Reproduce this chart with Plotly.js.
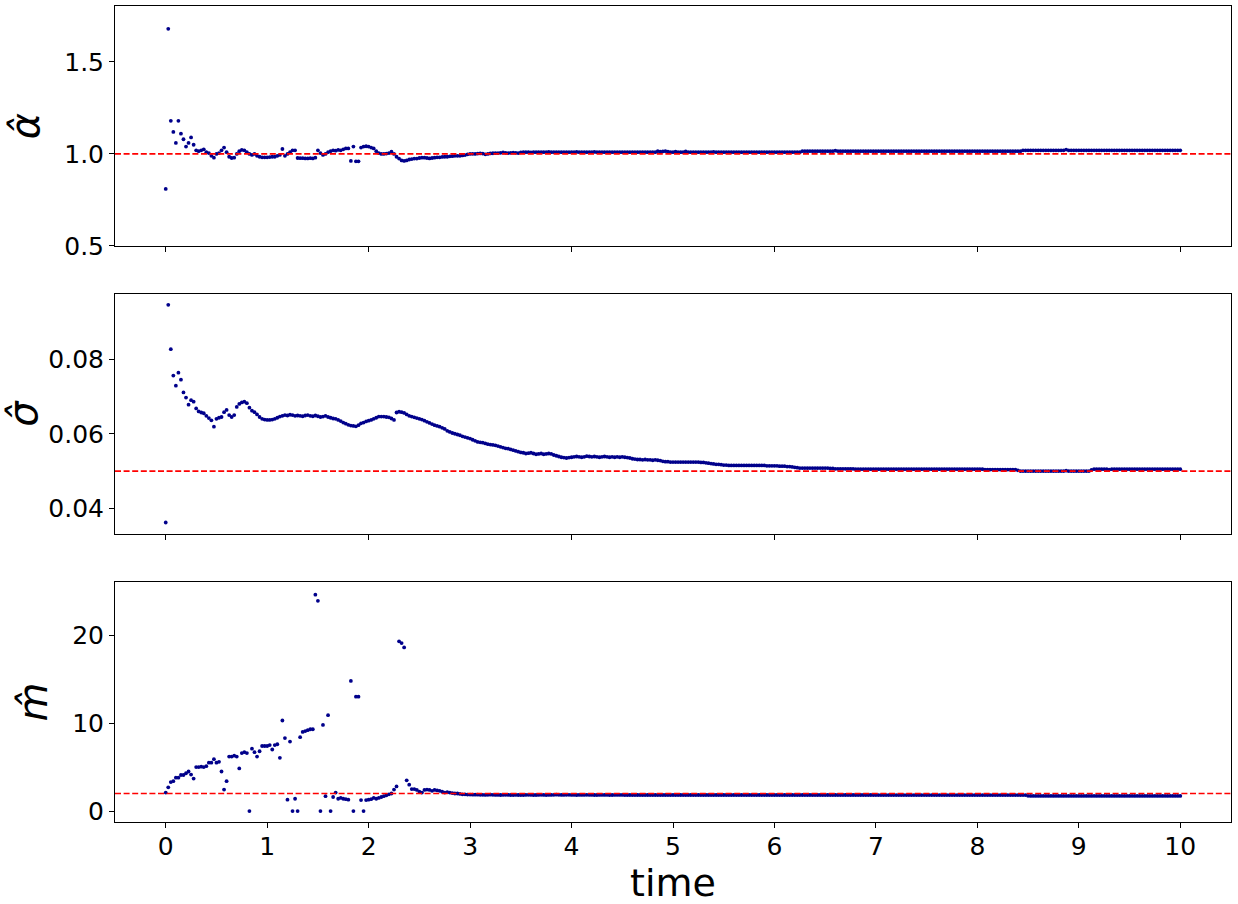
<!DOCTYPE html>
<html>
<head>
<meta charset="utf-8">
<script src="https://cdn.plot.ly/plotly-3.0.1.min.js"></script>
<style>html,body{margin:0;padding:0;background:#fff;}#chart{width:1238px;height:904px;}</style>
</head>
<body>
<div id="chart"></div>
<script>
// sampling step of the estimates (time units)
const sampleStep = 0.025;

// alpha-hat estimates, one row per time unit (40 samples each) + final sample at t=10
const alphaHat = [
0.81,1.68,1.18,1.12,1.06,1.18,1.11,1.08,1.04,1.06,1.09,1.05,1.02,1.015,1.02,1.025,1.01,1.005,0.99,0.98,1.0,1.005,1.02,1.035,1.01,0.985,0.978,0.98,1.0,1.015,1.022,1.02,1.01,1.0,0.995,1.0,0.99,0.985,0.982,0.982,
0.982,0.983,0.985,0.985,0.99,0.995,1.027,0.99,1.0,1.01,1.02,1.02,0.978,0.977,0.977,0.976,0.976,0.977,0.976,0.98,1.02,1.005,0.995,1.0,1.01,1.015,1.02,1.018,1.022,1.02,1.025,1.03,1.03,0.962,1.04,0.96,0.96,1.035,1.04,1.042,
1.04,1.035,1.03,1.015,1.005,1.0,1.0,1.002,1.005,1.012,1.0,0.985,0.975,0.965,0.962,0.965,0.97,0.972,0.975,0.975,0.978,0.98,0.98,0.978,0.976,0.978,0.98,0.982,0.982,0.984,0.985,0.985,0.987,0.988,0.99,0.99,0.99,0.992,0.994,0.998,
1.0,1.001,1.0,1.002,1.003,1.002,0.998,1.0,1.003,1.004,1.005,1.005,1.006,1.008,1.006,1.005,1.006,1.007,1.006,1.005,1.009,1.01,1.01,1.01,1.009,1.01,1.01,1.01,1.01,1.01,1.01,1.011,1.01,1.01,1.01,1.01,1.01,1.01,1.01,1.01,
1.01,1.01,1.011,1.01,1.01,1.01,1.01,1.01,1.01,1.011,1.01,1.01,1.01,1.01,1.01,1.01,1.01,1.01,1.01,1.01,1.01,1.01,1.01,1.01,1.01,1.01,1.01,1.01,1.01,1.01,1.01,1.01,1.01,1.01,1.015,1.013,1.014,1.015,1.013,1.01,
1.01,1.012,1.01,1.01,1.01,1.014,1.01,1.01,1.01,1.01,1.01,1.01,1.01,1.01,1.01,1.01,1.011,1.01,1.01,1.01,1.01,1.01,1.01,1.01,1.01,1.01,1.01,1.01,1.01,1.01,1.01,1.01,1.01,1.01,1.01,1.01,1.01,1.01,1.01,1.01,
1.01,1.01,1.01,1.01,1.01,1.01,1.01,1.01,1.01,1.01,1.01,1.015,1.015,1.015,1.015,1.015,1.015,1.015,1.015,1.015,1.015,1.015,1.015,1.015,1.018,1.015,1.015,1.015,1.015,1.015,1.015,1.015,1.015,1.015,1.015,1.015,1.015,1.015,1.015,1.015,
1.015,1.015,1.015,1.015,1.015,1.015,1.015,1.015,1.015,1.015,1.015,1.015,1.015,1.015,1.015,1.015,1.015,1.015,1.015,1.015,1.015,1.015,1.015,1.015,1.015,1.015,1.015,1.015,1.015,1.015,1.015,1.015,1.015,1.015,1.015,1.015,1.015,1.015,1.015,1.015,
1.015,1.015,1.015,1.015,1.015,1.015,1.015,1.015,1.015,1.015,1.015,1.015,1.015,1.015,1.015,1.015,1.015,1.015,1.02,1.02,1.02,1.02,1.02,1.02,1.02,1.02,1.02,1.02,1.02,1.02,1.02,1.02,1.02,1.02,1.02,1.024,1.02,1.02,1.02,1.02,
1.02,1.02,1.02,1.02,1.02,1.02,1.02,1.02,1.02,1.02,1.02,1.02,1.02,1.02,1.02,1.02,1.02,1.02,1.02,1.02,1.02,1.02,1.02,1.02,1.02,1.02,1.02,1.02,1.02,1.02,1.02,1.02,1.02,1.02,1.02,1.02,1.02,1.02,1.02,1.02,
1.02
];

// sigma-hat estimates
const sigmaHat = [
0.0362,0.0946,0.0827,0.0756,0.0729,0.0764,0.0745,0.0711,0.0697,0.0678,0.069,0.0686,0.0668,0.066,0.0657,0.0655,0.0648,0.0642,0.0636,0.0619,0.064,0.0643,0.0645,0.0658,0.0664,0.065,0.0645,0.065,0.0672,0.068,0.0684,0.0686,0.0682,0.067,0.0662,0.0658,0.0652,0.0645,0.064,0.0638,
0.0637,0.0637,0.0638,0.064,0.0643,0.0646,0.0648,0.065,0.0649,0.0651,0.065,0.0648,0.0649,0.0648,0.0647,0.0649,0.065,0.0648,0.0647,0.0649,0.0647,0.0645,0.0646,0.0648,0.0645,0.0643,0.0641,0.064,0.0637,0.0634,0.063,0.0627,0.0624,0.0622,0.0621,0.062,0.0623,0.0628,0.063,0.0633,
0.0635,0.0637,0.064,0.0643,0.0646,0.0646,0.0646,0.0645,0.0644,0.0641,0.0637,0.0657,0.0659,0.0658,0.0656,0.0652,0.0648,0.0646,0.0644,0.0642,0.064,0.0638,0.0635,0.0632,0.0629,0.0626,0.0623,0.0621,0.0619,0.0616,0.0613,0.0608,0.0605,0.0602,0.06,0.0598,0.0596,0.0593,0.0591,0.0589,
0.0587,0.0584,0.0581,0.0578,0.0577,0.0576,0.0574,0.0572,0.0571,0.057,0.0569,0.0567,0.0565,0.0563,0.0561,0.056,0.0558,0.0556,0.0554,0.0552,0.055,0.0549,0.0547,0.0548,0.0549,0.0547,0.0545,0.0546,0.0547,0.0545,0.0546,0.0547,0.0546,0.0543,0.0541,0.0539,0.0537,0.0536,0.0535,0.0536,
0.0537,0.0538,0.0539,0.0538,0.0537,0.0538,0.054,0.0539,0.0538,0.0539,0.0538,0.0537,0.0538,0.0539,0.0538,0.0537,0.0538,0.0537,0.0538,0.0537,0.0538,0.0537,0.0536,0.0535,0.0533,0.0532,0.0531,0.0531,0.053,0.0531,0.053,0.053,0.0529,0.053,0.0529,0.0528,0.0526,0.0525,0.0525,0.0524,
0.0524,0.0524,0.0524,0.0524,0.0524,0.0524,0.0524,0.0524,0.0524,0.0524,0.0524,0.0523,0.0523,0.0522,0.0521,0.052,0.0519,0.0518,0.0518,0.0517,0.0516,0.0516,0.0515,0.0515,0.0515,0.0515,0.0515,0.0515,0.0515,0.0515,0.0515,0.0515,0.0515,0.0515,0.0515,0.0515,0.0515,0.0514,0.0514,0.0514,
0.0514,0.0514,0.0513,0.0513,0.0513,0.0512,0.0512,0.0511,0.051,0.0509,0.0508,0.0508,0.0508,0.0508,0.0508,0.0508,0.0508,0.0508,0.0508,0.0508,0.0508,0.0508,0.0507,0.0507,0.0506,0.0506,0.0506,0.0506,0.0506,0.0506,0.0506,0.0506,0.0505,0.0505,0.0505,0.0505,0.0505,0.0505,0.0505,0.0505,
0.0505,0.0505,0.0505,0.0505,0.0505,0.0505,0.0505,0.0505,0.0505,0.0505,0.0505,0.0505,0.0505,0.0505,0.0505,0.0505,0.0505,0.0505,0.0505,0.0505,0.0505,0.0505,0.0505,0.0505,0.0505,0.0505,0.0505,0.0505,0.0505,0.0505,0.0505,0.0505,0.0505,0.0505,0.0505,0.0505,0.0505,0.0505,0.0505,0.0505,
0.0505,0.0505,0.0505,0.0504,0.0504,0.0504,0.0504,0.0504,0.0504,0.0504,0.0504,0.0504,0.0504,0.0504,0.0504,0.0504,0.0502,0.05,0.05,0.05,0.05,0.05,0.05,0.05,0.05,0.05,0.05,0.05,0.05,0.05,0.05,0.05,0.05,0.05,0.05,0.0501,0.05,0.05,0.05,0.05,
0.05,0.05,0.05,0.05,0.05,0.0503,0.0505,0.0505,0.0505,0.0505,0.0505,0.0505,0.0504,0.0505,0.0505,0.0505,0.0505,0.0505,0.0505,0.0505,0.0505,0.0505,0.0505,0.0505,0.0505,0.0505,0.0505,0.0505,0.0505,0.0505,0.0505,0.0505,0.0505,0.0505,0.0505,0.0505,0.0505,0.0505,0.0505,0.0505,
0.0505
];

// m-hat estimates
const mHat = [
2.1,2.7,3.3,3.4,3.8,3.8,4.1,4.1,4.3,4.5,4.15,3.7,5.0,5.0,5.05,5.0,5.1,5.5,5.5,5.9,5.5,5.6,4.5,2.45,3.4,6.2,6.2,6.3,6.2,4.85,6.6,6.7,6.6,0,7.1,6.7,6.2,6.8,7.4,7.4,
7.4,7.5,7.0,7.5,7.6,6.05,10.3,8.3,1.3,7.9,0,1.4,0,8.4,9.0,9.1,9.2,9.3,9.3,24.6,23.9,0,9.8,1.7,10.9,0,1.6,2.1,1.4,1.5,1.4,1.35,1.3,14.8,0,13.0,13.0,1.25,0,1.25,
1.3,1.35,1.5,1.4,1.5,1.6,1.7,1.8,1.9,2.0,2.45,2.8,19.3,19.1,18.6,3.5,3.0,2.5,2.5,2.4,2.2,2.1,2.4,2.45,2.4,2.3,2.4,2.35,2.3,2.2,2.1,2.15,2.1,2.05,2.0,2.0,1.95,1.9,1.9,1.88,
1.88,1.87,1.86,1.86,1.85,1.85,1.84,1.85,1.86,1.85,1.84,1.84,1.83,1.84,1.85,1.84,1.83,1.83,1.84,1.83,1.82,1.83,1.84,1.85,1.84,1.83,1.83,1.84,1.85,1.84,1.83,1.84,1.84,1.85,1.86,1.85,1.84,1.84,1.85,1.85,
1.84,1.84,1.83,1.84,1.84,1.84,1.85,1.84,1.84,1.83,1.83,1.84,1.84,1.84,1.84,1.83,1.83,1.84,1.84,1.84,1.84,1.83,1.83,1.83,1.83,1.83,1.83,1.83,1.83,1.83,1.83,1.83,1.83,1.83,1.83,1.83,1.83,1.83,1.83,1.83,
1.83,1.83,1.83,1.83,1.83,1.83,1.83,1.83,1.83,1.83,1.83,1.83,1.83,1.83,1.83,1.83,1.83,1.83,1.83,1.83,1.83,1.83,1.83,1.83,1.83,1.83,1.83,1.83,1.83,1.83,1.83,1.83,1.83,1.83,1.83,1.83,1.83,1.83,1.83,1.83,
1.83,1.83,1.83,1.83,1.83,1.83,1.83,1.83,1.83,1.83,1.83,1.83,1.83,1.83,1.83,1.83,1.83,1.83,1.83,1.83,1.83,1.83,1.83,1.83,1.83,1.83,1.83,1.83,1.83,1.83,1.83,1.83,1.83,1.83,1.83,1.83,1.83,1.83,1.83,1.83,
1.82,1.82,1.82,1.82,1.82,1.82,1.82,1.82,1.82,1.82,1.82,1.82,1.82,1.82,1.82,1.82,1.82,1.82,1.82,1.82,1.82,1.82,1.82,1.82,1.82,1.82,1.82,1.82,1.82,1.82,1.82,1.82,1.82,1.82,1.82,1.82,1.82,1.82,1.82,1.82,
1.82,1.82,1.82,1.82,1.82,1.82,1.82,1.82,1.82,1.82,1.82,1.82,1.82,1.82,1.82,1.82,1.82,1.82,1.82,1.82,1.73,1.72,1.72,1.72,1.72,1.72,1.72,1.72,1.72,1.72,1.72,1.72,1.72,1.72,1.72,1.72,1.72,1.72,1.72,1.72,
1.72,1.72,1.72,1.72,1.72,1.72,1.72,1.72,1.72,1.72,1.72,1.72,1.72,1.72,1.72,1.72,1.72,1.72,1.72,1.72,1.72,1.72,1.72,1.72,1.72,1.72,1.72,1.72,1.72,1.72,1.72,1.72,1.72,1.72,1.72,1.72,1.72,1.72,1.72,1.72,
1.72
];

// true parameter values (red dashed reference lines)
const trueValues = [1.0, 0.05, 2];

// axis labels and ticks
const yLabels = ['<i>α̂</i>', '<i>σ̂</i>', '<i>m̂</i>'];
const xLabel = 'time';
const xTickVals = [0,1,2,3,4,5,6,7,8,9,10];
const xTickValsUpper = [0,2,4,6,8,10];
const yTickVals = [[0.5,1.0,1.5],[0.04,0.06,0.08],[0,10,20]];
const yTickText = [['0.5','1.0','1.5'],['0.04','0.06','0.08'],['0','10','20']];
const yRanges = [[0.5,1.804],[0.0331,0.0975],[-1.24,26.04]];

const time = alphaHat.map((_, i) => +(i * sampleStep).toFixed(3));
const series = [alphaHat, sigmaHat, mHat];

const traces = series.map((vals, k) => ({
  type: 'scatter', mode: 'markers',
  x: time, y: vals,
  xaxis: k === 0 ? 'x' : 'x' + (k + 1),
  yaxis: k === 0 ? 'y' : 'y' + (k + 1),
  marker: {color: '#00008b', size: 3.8},
  hoverinfo: 'x+y', showlegend: false
}));

const domains = [[0.7059, 1.0], [0.3529, 0.6471], [0.0, 0.2941]];
const font = {family: 'DejaVu Sans, sans-serif', color: '#000'};

const layout = {
  width: 1238, height: 904,
  margin: {l: 115, r: 7, t: 6, b: 82},
  paper_bgcolor: '#fff', plot_bgcolor: '#fff',
  font: Object.assign({size: 25}, font),
  showlegend: false,
  shapes: trueValues.map((v, k) => ({
    type: 'line', xref: (k === 0 ? 'x' : 'x' + (k + 1)) + ' domain',
    yref: k === 0 ? 'y' : 'y' + (k + 1),
    x0: 0, x1: 1, y0: v, y1: v,
    line: {color: '#ff0000', width: 1.7, dash: '6px,2.6px'},
    layer: 'above'
  })),
  annotations: [{
    text: xLabel, xref: 'paper', yref: 'paper', x: 0.5, y: -0.046,
    xanchor: 'center', yanchor: 'top', showarrow: false, borderpad: 0,
    font: Object.assign({size: 38}, font)
  }]
};

for (let k = 0; k < 3; k++) {
  const xs = k === 0 ? 'xaxis' : 'xaxis' + (k + 1);
  const ys = k === 0 ? 'yaxis' : 'yaxis' + (k + 1);
  const yid = k === 0 ? 'y' : 'y' + (k + 1);
  const xid = k === 0 ? 'x' : 'x' + (k + 1);
  const bottom = k === 2;
  layout[xs] = {
    domain: [0, 1], anchor: yid, range: [-0.5, 10.5],
    showgrid: false, zeroline: false,
    showline: true, mirror: true, linecolor: '#000', linewidth: 1,
    ticks: 'outside', ticklen: 5, tickwidth: 1, tickcolor: '#000',
    tickmode: 'array', tickvals: bottom ? xTickVals : xTickValsUpper,
    ticktext: (bottom ? xTickVals : xTickValsUpper).map(String),
    showticklabels: bottom, ticklabelstandoff: bottom ? -3 : 0,
    tickfont: Object.assign({size: 25}, font)
  };
  layout[ys] = {
    domain: domains[k], anchor: xid, range: yRanges[k],
    showgrid: false, zeroline: false,
    showline: true, mirror: true, linecolor: '#000', linewidth: 1,
    ticks: 'outside', ticklen: 5, tickwidth: 1, tickcolor: '#000',
    tickmode: 'array', tickvals: yTickVals[k], ticktext: yTickText[k],
    tickfont: Object.assign({size: 25}, font),
    title: {text: yLabels[k], font: Object.assign({size: 40}, font), standoff: 12}
  };
}

Plotly.newPlot('chart', traces, layout, {staticPlot: true, displayModeBar: false});
</script>
</body>
</html>
